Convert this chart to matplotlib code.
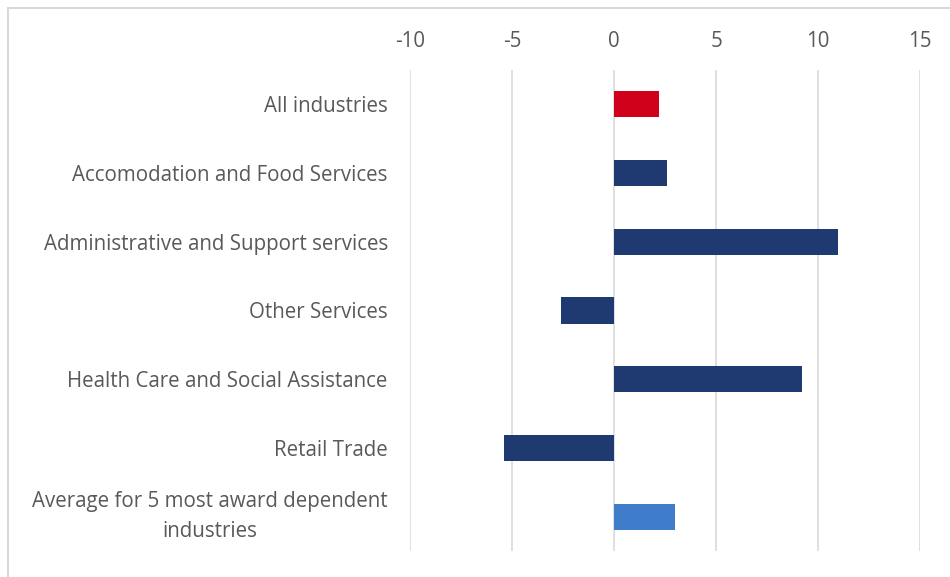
import matplotlib
matplotlib.use("Agg")
import matplotlib.pyplot as plt
from matplotlib.patches import Rectangle

categories = [
    "All industries",
    "Accomodation and Food Services",
    "Administrative and Support services",
    "Other Services",
    "Health Care and Social Assistance",
    "Retail Trade",
    "Average for 5 most award dependent\nindustries",
]
values = [2.2, 2.6, 11.0, -2.6, 9.2, -5.4, 3.0]
colors = ["#D0021B", "#1F3A70", "#1F3A70", "#1F3A70", "#1F3A70", "#1F3A70", "#3F7CC9"]
xticks = [-10, -5, 0, 5, 10, 15]

plt.rcParams['font.family'] = ['Open Sans', 'DejaVu Sans']

fig = plt.figure(figsize=(9.5, 5.77), dpi=100)
ax = fig.add_axes([410/950, 1 - 551/577, 510/950, 481/577])

y = list(range(len(categories)))
ax.barh(y, values, height=0.38, color=colors, zorder=3)
ax.set_ylim(len(categories) - 0.5, -0.5)
ax.set_xlim(-10, 15)
ax.set_xticks(xticks)
ax.set_xticklabels([str(t) for t in xticks])
ax.set_yticks(y)
ax.set_yticklabels(categories, linespacing=1.55)
ax.xaxis.tick_top()
ax.tick_params(axis='x', length=0, pad=13, labelsize=14.8, labelcolor='#595959')
ax.tick_params(axis='y', length=0, pad=16, labelsize=14.8, labelcolor='#595959')
for lbl in ax.get_yticklabels():
    lbl.set_horizontalalignment('right')
    lbl.set_multialignment('center')
    if "\n" in lbl.get_text():
        lbl.set_verticalalignment('center')
ax.grid(axis='x', color='#D9D9D9', linewidth=1.2, zorder=0)
ax.grid(axis='y', visible=False)
for s in ax.spines.values():
    s.set_visible(False)

fig.patches.append(Rectangle((8/950, -0.1), 1.2, 1 - 8/577 + 0.1, transform=fig.transFigure,
                             fill=False, edgecolor='#D9D9D9', linewidth=1.5, zorder=0))

fig.savefig("out.png", dpi=100)
